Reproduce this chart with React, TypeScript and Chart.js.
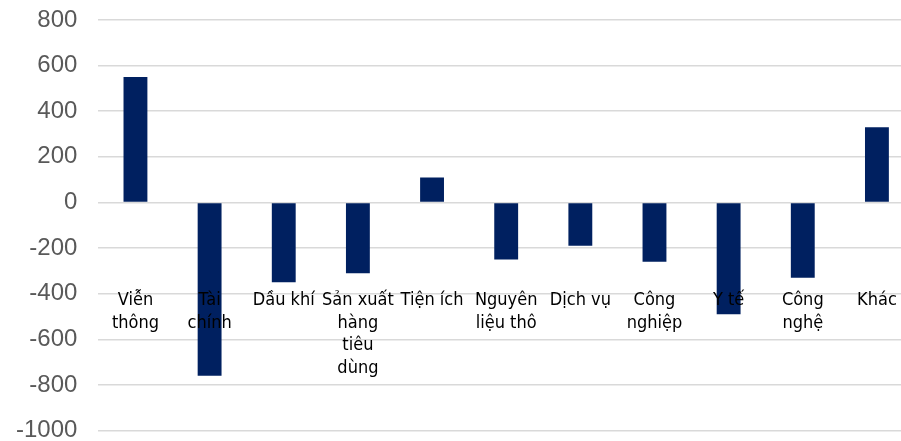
import React, { useEffect, useRef } from "react";
import { Chart, registerables } from "chart.js";

Chart.register(...registerables);

const categories: string[][] = [
  ["Viễn", "thông"],
  ["Tài", "chính"],
  ["Dầu khí"],
  ["Sản xuất", "hàng", "tiêu", "dùng"],
  ["Tiện ích"],
  ["Nguyên", "liệu thô"],
  ["Dịch vụ"],
  ["Công", "nghiệp"],
  ["Y tế"],
  ["Công", "nghệ"],
  ["Khác"],
];

const values: number[] = [550, -760, -350, -310, 110, -250, -190, -260, -490, -330, 330];

const yMin = -1000;
const yMax = 800;
const yStep = 200;

export default function App() {
  const ref = useRef<HTMLCanvasElement | null>(null);

  useEffect(() => {
    if (!ref.current) return;
    const chart = new Chart(ref.current, {
      type: "bar",
      data: {
        labels: categories,
        datasets: [
          {
            data: values,
            backgroundColor: "#002060",
            borderWidth: 0,
            categoryPercentage: 1,
            barPercentage: 0.322,
          },
        ],
      },
      options: {
        responsive: false,
        animation: false,
        layout: { padding: { left: 16, top: 20, right: 0, bottom: 0 } },
        plugins: { legend: { display: false }, tooltip: { enabled: false } },
        scales: {
          x: {
            position: { y: -380 } as any,
            grid: { display: false, drawTicks: false },
            border: { display: false },
            ticks: {
              z: 1,
              autoSkip: false,
              maxRotation: 0,
              minRotation: 0,
              padding: 0,
              color: "#000000",
              font: { family: "'DejaVu Sans Condensed', 'DejaVu Sans', sans-serif", size: 18, lineHeight: 1.25 },
            },
          },
          y: {
            min: yMin,
            max: yMax,
            grid: { color: "#d9d9d9", lineWidth: 1.5, drawTicks: true, tickLength: 21, tickColor: "rgba(0,0,0,0)" },
            border: { display: false },
            ticks: {
              stepSize: yStep,
              padding: 0,
              color: "#595959",
              font: { family: "'Liberation Sans', Arial, sans-serif", size: 24 },
              callback: (v: any) => String(v),
            },
          },
        },
      },
    });
    return () => chart.destroy();
  }, []);

  return (
    <div style={{ position: "fixed", left: 0, top: 0, width: 901, height: 441, overflow: "hidden", background: "#fff" }}>
      <canvas ref={ref} width={914} height={445} style={{ width: 914, height: 445, display: "block" }} />
    </div>
  );
}
